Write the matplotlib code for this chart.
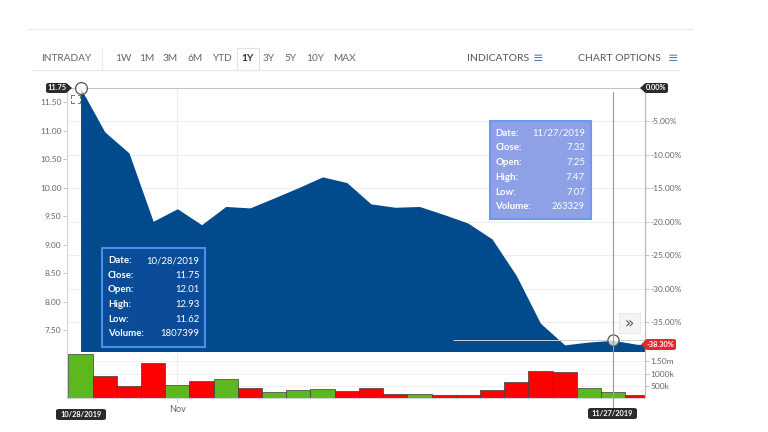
import numpy as np
import pandas as pd
import matplotlib
matplotlib.use("Agg")
import matplotlib.pyplot as plt
from matplotlib.patches import Rectangle, FancyBboxPatch, Polygon
from matplotlib.lines import Line2D
import matplotlib.transforms as mtransforms

plt.rcParams['font.family'] = ['Lato', 'DejaVu Sans']

# trading days 10/28/2019 .. 11/29/2019 (no Thanksgiving)
dates = [d for d in pd.bdate_range("2019-10-28", "2019-11-29") if d != pd.Timestamp("2019-11-28")]

close = [11.75, 10.98, 10.61, 9.41, 9.63, 9.35, 9.67, 9.645, 9.82, 10.00, 10.19, 10.09,
         9.715, 9.656, 9.67, 9.53, 9.38, 9.10, 8.46, 7.62, 7.24, 7.29, 7.32, 7.25]
volume = [1807399, 910000, 500000, 1450000, 540000, 680000, 770000, 410000, 240000, 330000,
          350000, 300000, 420000, 170000, 170000, 125000, 125000, 340000, 640000, 1120000,
          1070000, 420000, 263329, 130000]

price_ticks = [7.50, 8.00, 8.50, 9.00, 9.50, 10.00, 10.50, 11.00, 11.50]
pct_ticks = [-5, -10, -15, -20, -25, -30, -35]
vol_ticks = [500000, 1000000, 1500000]
vol_labels = ['500k', '1000k', '1.50m']

tip_labels = ['Date:', 'Close:', 'Open:', 'High:', 'Low:', 'Volume:']
tip1_values = ['10/28/2019', '11.75', '12.01', '12.93', '11.62', '1807399']
tip2_values = ['11/27/2019', '7.32', '7.25', '7.47', '7.07', '263329']

ranges = ['1W', '1M', '3M', '6M', 'YTD', '1Y', '3Y', '5Y', '10Y', 'MAX']

BLUE = '#014a8c'
GREEN = '#5cb81c'
RED = '#ff0000'
GRAY = '#666666'

W, H = 768, 432
def fx(x):
    return x / W
def fy(y):
    return 1 - y / H

fig = plt.figure(figsize=(W / 100, H / 100), dpi=100)
fig.patch.set_facecolor('white')

ax = fig.add_axes([fx(67), fy(352), (645 - 67) / W, (352 - 88) / H])
axv = fig.add_axes([fx(67), fy(398), (645 - 67) / W, (398 - 352) / H], sharex=ax)

x = np.arange(len(close))
base = close[0]
ymin = 7.115
ax.set_xlim(-0.56, 23.32)

# price area, last close carried to the right edge of the plot
xe = np.append(x, ax.get_xlim()[1])
ce = np.append(close, close[-1])
ax.fill_between(xe, ce, ymin, color=BLUE, lw=0, zorder=2)
ax.set_ylim(ymin, 11.75)

for p in pct_ticks:
    ax.axhline(base * (1 + p / 100), color='#eeeeee', lw=0.8, zorder=0)
nov = [i for i, d in enumerate(dates) if d.month == 11][0]
ax.axvline(nov, color='#eeeeee', lw=0.8, zorder=0)
axv.axvline(nov, color='#eeeeee', lw=0.8, zorder=0)

ax.set_yticks(price_ticks)
ax.set_yticklabels([f"{v:.2f}" for v in price_ticks])
ax.tick_params(axis='y', labelsize=6, colors='#bbbbbb', labelcolor=GRAY, length=3, width=0.6, pad=1)
ax.tick_params(axis='x', bottom=False, labelbottom=False)
ax.spines['bottom'].set_visible(False)
ax.spines['top'].set_color('#c4c4c4')
ax.spines['left'].set_color('#d4d4d4')
ax.spines['right'].set_color('#bbbbbb')
for s in ax.spines.values():
    s.set_linewidth(0.8)

sec = ax.secondary_yaxis('right', functions=(lambda v: (v / base - 1) * 100,
                                             lambda p: base * (1 + p / 100)))
sec.set_yticks(pct_ticks)
sec.set_yticklabels([f"{p:.2f}%" for p in pct_ticks])
sec.tick_params(labelsize=6, colors='#bbbbbb', labelcolor=GRAY, length=3, width=0.6, pad=1)
sec.spines['right'].set_color('#bbbbbb')
sec.spines['right'].set_linewidth(0.8)

# volume bars, green when close is up on the previous day
chg = np.diff(close, prepend=close[0] - 1)
colors = [GREEN if c >= 0 else RED for c in chg]
axv.bar(x, volume, width=1.0, color=colors, edgecolor='#3c3c3c', linewidth=0.5, zorder=2)
axv.set_ylim(0, 1.88e6)
for v in vol_ticks:
    axv.axhline(v, color='#f0f0f0', lw=0.7, zorder=0)
axv.yaxis.tick_right()
axv.set_yticks(vol_ticks)
axv.set_yticklabels(vol_labels)
axv.tick_params(axis='y', labelsize=6, colors='#bbbbbb', labelcolor=GRAY, length=3, width=0.6, pad=1)
axv.set_xticks([nov])
axv.set_xticklabels([dates[nov].strftime('%b')])
axv.tick_params(axis='x', labelsize=6.5, colors='#bbbbbb', labelcolor=GRAY, length=3, width=0.6, pad=2)
axv.spines['top'].set_visible(False)
axv.spines['bottom'].set_color('#d4d4d4')
axv.spines['left'].set_color('#d4d4d4')
axv.spines['right'].set_color('#bbbbbb')
for s in axv.spines.values():
    s.set_linewidth(0.8)

# crosshair on 11/27
sel = [i for i, d in enumerate(dates) if d == pd.Timestamp("2019-11-27")][0]
bt = mtransforms.blended_transform_factory(ax.transData, fig.transFigure)
fig.add_artist(Line2D([sel, sel], [fy(92), fy(407)], transform=bt, color='#9a9a9a', lw=0.8, zorder=5))
ax.hlines(close[sel], 15.38, 23.3, color='#c9d0da', lw=0.7, zorder=4)
ax.plot([sel], [close[sel]], 'o', ms=8, mfc=(1, 1, 1, 0.75), mec='#555555', mew=0.9, zorder=6, clip_on=False)
ax.plot([0], [close[0]], 'o', ms=8.5, mfc=(1, 1, 1, 0.75), mec='#555555', mew=0.9, zorder=6, clip_on=False)


def badge(x0, x1, y0, y1, text, color, arrow=None):
    fig.add_artist(FancyBboxPatch((fx(x0), fy(y1)), (x1 - x0) / W, (y1 - y0) / H,
                                  boxstyle='round,pad=0,rounding_size=0.004',
                                  transform=fig.transFigure, fc=color, ec='none', zorder=8))
    ym = (y0 + y1) / 2
    if arrow == 'right':
        pts = [(fx(x1 - 0.5), fy(y0 + 1)), (fx(x1 + 4), fy(ym)), (fx(x1 - 0.5), fy(y1 - 1))]
        fig.add_artist(Polygon(pts, closed=True, transform=fig.transFigure, fc=color, ec='none', zorder=8))
    elif arrow == 'left':
        pts = [(fx(x0 + 0.5), fy(y0 + 1)), (fx(x0 - 4), fy(ym)), (fx(x0 + 0.5), fy(y1 - 1))]
        fig.add_artist(Polygon(pts, closed=True, transform=fig.transFigure, fc=color, ec='none', zorder=8))
    fig.text(fx((x0 + x1) / 2), fy(ym), text, ha='center', va='center', color='white',
             fontsize=5.3, fontweight='bold', zorder=9)


badge(46, 68, 83, 93, f"{close[0]:.2f}", '#2b2b2b', 'right')
badge(644, 668, 83, 93, f"{0:.2f}%", '#2b2b2b', 'left')
badge(645, 676, 339, 350, f"{(close[-1] / base - 1) * 100:.2f}%", '#e8242c', 'left')
badge(56, 106, 409, 420, dates[0].strftime('%m/%d/%Y'), '#2b2b2b')
badge(588, 637, 408, 419, dates[sel].strftime('%m/%d/%Y'), '#2b2b2b')


def tooltip(x0, x1, y0, y1, values, fc, ec, row0):
    fig.add_artist(Rectangle((fx(x0), fy(y1)), (x1 - x0) / W, (y1 - y0) / H,
                             transform=fig.transFigure, fc=fc, ec=ec, lw=1.5, zorder=7))
    for k, (lab, val) in enumerate(zip(tip_labels, values)):
        yy = row0 + k * 14.7
        fig.text(fx(x0 + 6), fy(yy), lab, ha='left', va='center', color='white',
                 fontsize=6.9, fontweight='bold', zorder=9)
        fig.text(fx(x1 - 5.5), fy(yy), val, ha='right', va='center', color='white',
                 fontsize=6.9, zorder=9)


tooltip(102, 205, 248, 347, tip1_values, '#0b4c98', '#4a8fe8', 260.5)
tooltip(489.5, 590.5, 121, 219, tip2_values, '#8ea0e6', '#7197ee', 133.3)

# expand button
fig.add_artist(Rectangle((fx(619), fy(333)), 21 / W, 20 / H, transform=fig.transFigure,
                         fc='#f4f4f4', ec='#e6e6e6', lw=0.6, zorder=7))
fig.text(fx(629.5), fy(323.5), '\u00bb', ha='center', va='center', color='#555555',
         fontsize=11, family='DejaVu Sans', zorder=9)

# fullscreen icon
for cx, cy, dx, dy in [(71, 95, 1, 1), (80, 95, -1, 1), (71, 103, 1, -1), (80, 103, -1, -1)]:
    fig.add_artist(Line2D([fx(cx), fx(cx), fx(cx + 2.5 * dx)], [fy(cy + 2.5 * dy), fy(cy), fy(cy)],
                          transform=fig.transFigure, color='#777777', lw=0.7, zorder=9))

# toolbar
fig.add_artist(Line2D([fx(28), fx(693)], [fy(29), fy(29)], transform=fig.transFigure, color='#ebebeb', lw=1))
fig.add_artist(Line2D([fx(32), fx(679)], [fy(70), fy(70)], transform=fig.transFigure, color='#e6e6e6', lw=0.8))
fig.add_artist(Line2D([fx(101.5), fx(101.5)], [fy(48), fy(70)], transform=fig.transFigure, color='#ececec', lw=0.8))
fig.add_artist(Rectangle((fx(237), fy(70)), 21.5 / W, 22 / H, transform=fig.transFigure,
                         fc='none', ec='#e2e2e2', lw=0.8))
fig.text(fx(66), fy(58.5), 'INTRADAY', ha='center', va='center', color=GRAY, fontsize=7.3)
centers = [123.7, 147, 170.5, 194.7, 222, 247.7, 269, 291, 315.3, 345]
for r, c in zip(ranges, centers):
    active = r == '1Y'
    fig.text(fx(c), fy(58.5), r, ha='center', va='center', fontsize=7.3,
             color='#333333' if active else GRAY, fontweight='bold' if active else 'normal')
fig.text(fx(498.5), fy(58.5), 'INDICATORS', ha='center', va='center', color='#555555', fontsize=7.5)
fig.text(fx(538), fy(58.5), '\u2261', ha='center', va='center', color='#4d7fc0', fontsize=9, family='DejaVu Sans')
fig.text(fx(619), fy(58.5), 'CHART OPTIONS', ha='center', va='center', color='#555555', fontsize=7.5)
fig.text(fx(672.5), fy(58.5), '\u2261', ha='center', va='center', color='#4d7fc0', fontsize=9, family='DejaVu Sans')

fig.savefig('out.png', dpi=100)
